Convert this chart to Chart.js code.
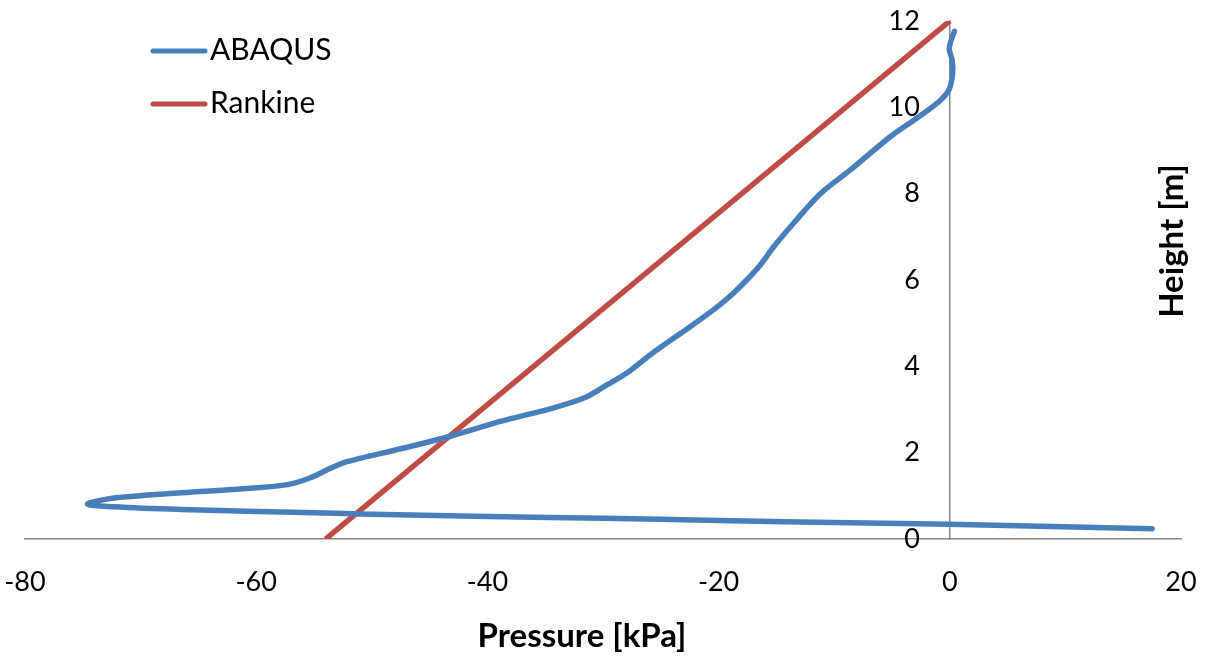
<!DOCTYPE html>
<html>
<head>
<meta charset="utf-8">
<title>Pressure vs Height</title>
<script src="https://cdn.jsdelivr.net/npm/chart.js@4/dist/chart.umd.min.js"></script>
<style>
  html, body { margin: 0; padding: 0; background: #ffffff; }
  #wrap { width: 1206px; height: 661px; position: relative; }
</style>
</head>
<body>
<div id="wrap"><canvas id="chart" width="1206" height="661"></canvas></div>
<script>
// ABAQUS pressure profile along the wall, from the top down to the base
const abaqusPressure = [
  0.4, 0.2, -0.05, 0.2, 0.25, -0.05, -0.9, -2.8, -5.1, -8.6, -11.2, -13.5, -15.2,
  -16.6, -18.7, -20.4, -22.4, -25.9, -27.9, -29.6, -31.6, -34.5, -38.8, -43.2,
  -47.5, -52.4, -53.8, -55.3, -57.3, -60.8, -66.5, -72.3, -74.6, -72.3, -66.5,
  -55.0, -51.0, -42.3, -30.0, -20.0, -8.6, 0.0, 17.5
];
const abaqusHeight = [
  11.76, 11.62, 11.35, 11.1, 10.8, 10.42, 10.14, 9.76, 9.33, 8.55, 8.0, 7.32, 6.78,
  6.28, 5.70, 5.32, 4.93, 4.27, 3.85, 3.58, 3.27, 3.02, 2.73, 2.38,
  2.09, 1.77, 1.61, 1.42, 1.26, 1.17, 1.07, 0.95, 0.81, 0.745, 0.683,
  0.61, 0.58, 0.53, 0.48, 0.43, 0.375, 0.34, 0.24
];

// Rankine active earth pressure: linear from the base to the top
const rankinePressure = [-54.0, 0.0];
const rankineHeight = [0, 12];

// Axis tick values
const pressureTicks = [-80, -60, -40, -20, 0, 20];
const heightTicks = [0, 2, 4, 6, 8, 10, 12];

const seriesNames = ['ABAQUS', 'Rankine'];
const seriesColors = ['#4A7EBB', '#BE4B48'];

const toPoints = (xs, ys) => xs.map((x, i) => ({ x: x, y: ys[i] }));

const FONT = 'Lato, "Open Sans", "Liberation Sans", sans-serif';
const AXIS_GREY = '#868686';

// Axes take no room of their own; the plot fills the padded area
const flatAxis = (scale) => {
  if (scale.isHorizontal()) { scale.height = 0; } else { scale.width = 0; }
  scale.paddingLeft = scale.paddingRight = scale.paddingTop = scale.paddingBottom = 0;
};

// The height axis crosses the pressure axis at zero; the axis boxes are
// widened afterwards so their tick labels have room to be drawn
const crossingPlugin = {
  id: 'crossAtZero',
  afterLayout(chart) {
    const x = chart.scales.x;
    const y = chart.scales.y;
    const x0 = x.getPixelForValue(0);
    y.left = 0;
    y.right = x0;
    y.width = x0;
    x.bottom = chart.height;
    x.height = chart.height - x.top;
  }
};

// Legend in the upper-left corner of the plot
const legendPlugin = {
  id: 'cornerLegend',
  afterDraw(chart) {
    const ctx = chart.ctx;
    ctx.save();
    ctx.font = '30px ' + FONT;
    ctx.textAlign = 'left';
    ctx.textBaseline = 'middle';
    chart.data.datasets.forEach((ds, i) => {
      const y = 51 + i * 53;
      ctx.strokeStyle = ds.borderColor;
      ctx.lineWidth = 5;
      ctx.lineCap = 'round';
      ctx.beginPath();
      ctx.moveTo(153, y);
      ctx.lineTo(205, y);
      ctx.stroke();
      ctx.fillStyle = '#000000';
      ctx.fillText(ds.label, 210, y - 1);
    });
    ctx.restore();
  }
};

// Axis titles: below the pressure axis and rotated at the right edge
const titlePlugin = {
  id: 'axisTitles',
  afterDraw(chart) {
    const ctx = chart.ctx;
    ctx.save();
    ctx.fillStyle = '#000000';
    ctx.font = 'bold 33px ' + FONT;
    ctx.textAlign = 'center';
    ctx.textBaseline = 'middle';
    ctx.fillText('Pressure [kPa]', 582, 636);
    ctx.translate(1172, 241);
    ctx.rotate(-Math.PI / 2);
    ctx.fillText('Height [m]', 0, 0);
    ctx.restore();
  }
};

new Chart(document.getElementById('chart'), {
  type: 'scatter',
  data: {
    datasets: [
      {
        label: seriesNames[0],
        data: toPoints(abaqusPressure, abaqusHeight),
        showLine: true,
        borderColor: seriesColors[0],
        backgroundColor: seriesColors[0],
        borderWidth: 5.5,
        pointRadius: 0,
        tension: 0.3,
        borderCapStyle: 'round',
        borderJoinStyle: 'round'
      },
      {
        label: seriesNames[1],
        data: toPoints(rankinePressure, rankineHeight),
        showLine: true,
        borderColor: seriesColors[1],
        backgroundColor: seriesColors[1],
        borderWidth: 5.5,
        pointRadius: 0,
        tension: 0,
        borderCapStyle: 'butt'
      }
    ]
  },
  plugins: [crossingPlugin, legendPlugin, titlePlugin],
  options: {
    responsive: false,
    animation: false,
    layout: { padding: { left: 25, right: 25, top: 21, bottom: 122 } },
    plugins: {
      legend: { display: false },
      tooltip: { enabled: false }
    },
    scales: {
      x: {
        type: 'linear',
        position: 'bottom',
        min: pressureTicks[0],
        max: pressureTicks[pressureTicks.length - 1],
        afterBuildTicks: (scale) => { scale.ticks = pressureTicks.map(v => ({ value: v })); },
        afterFit: flatAxis,
        grid: { display: false, drawTicks: false },
        border: { display: true, color: AXIS_GREY, width: 1.5 },
        ticks: {
          padding: 27,
          color: '#000000',
          font: { family: FONT, size: 27 },
          maxRotation: 0,
          autoSkip: false
        }
      },
      y: {
        type: 'linear',
        position: 'left',
        min: heightTicks[0],
        max: heightTicks[heightTicks.length - 1],
        afterBuildTicks: (scale) => { scale.ticks = heightTicks.map(v => ({ value: v })); },
        afterFit: flatAxis,
        grid: { display: false, drawTicks: false },
        border: { display: true, color: AXIS_GREY, width: 1.5 },
        ticks: {
          padding: 30,
          color: '#000000',
          font: { family: FONT, size: 27 },
          autoSkip: false
        }
      }
    }
  }
});
</script>
</body>
</html>
